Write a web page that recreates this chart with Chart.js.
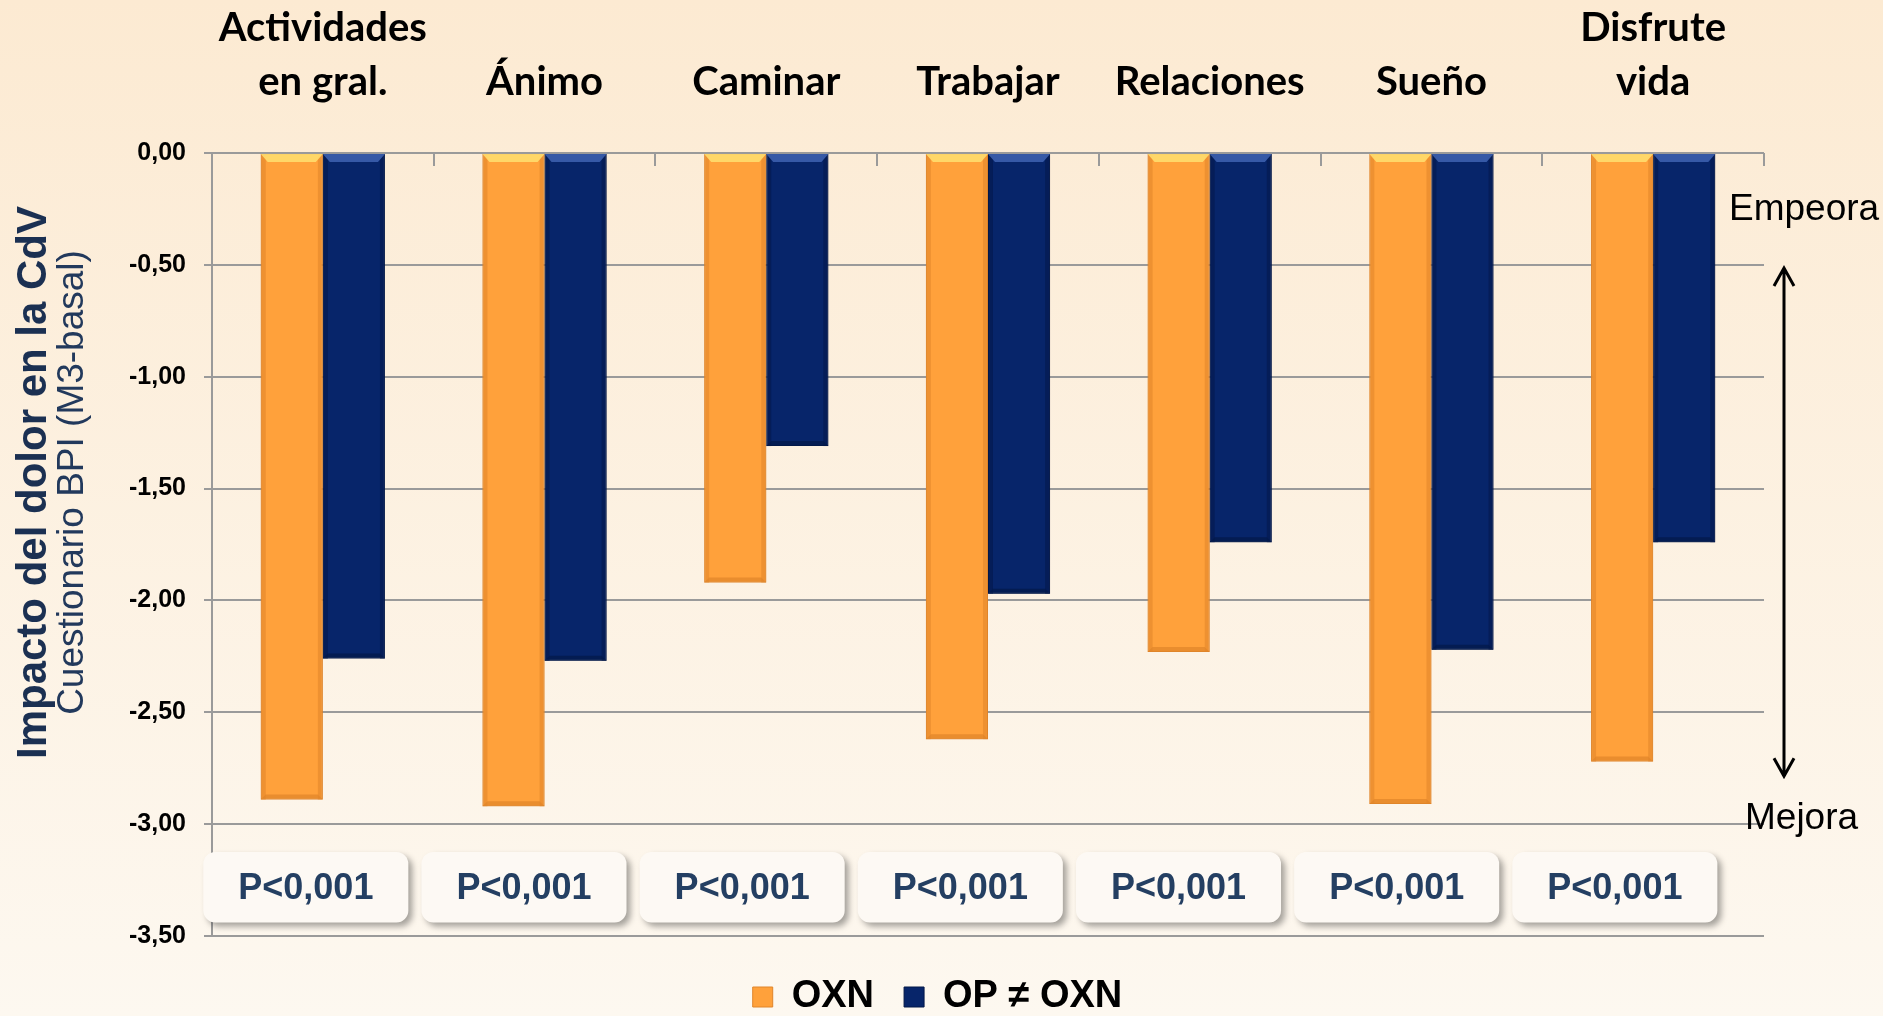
<!DOCTYPE html>
<html>
<head>
<meta charset="utf-8">
<script src="https://cdn.jsdelivr.net/npm/chart.js@4.4.1/dist/chart.umd.min.js"></script>
<style>
  html, body { margin: 0; padding: 0; }
  body { width: 1883px; height: 1016px; overflow: hidden; background: linear-gradient(#FCEAD2, #FDF8F0); }
</style>
</head>
<body>
<canvas id="chart" width="1883" height="1016"></canvas>
<script>
const categories = [['Actividades', 'en gral.'], 'Ánimo', 'Caminar', 'Trabajar', 'Relaciones', 'Sueño', ['Disfrute', 'vida']];
const seriesNames = ['OXN', 'OP ≠ OXN'];
const oxnValues = [-2.89, -2.92, -1.92, -2.62, -2.23, -2.91, -2.72];
const opValues = [-2.26, -2.27, -1.31, -1.97, -1.74, -2.22, -1.74];
const pLabels = ['P<0,001', 'P<0,001', 'P<0,001', 'P<0,001', 'P<0,001', 'P<0,001', 'P<0,001'];
const yTitle = ['Impacto del dolor en la CdV', 'Cuestionario BPI (M3-basal)'];
const sideLabels = ['Empeora', 'Mejora'];

const FONT = "'Liberation Sans', Arial, sans-serif";
const GRID = '#9a9a9a';
// body, light top bevel, dark edge
const bevel = [
    ['#FFA13B', '#FFDD6E', '#E0852A'],
    ['#07256A', '#3C5FAE', '#031848']
];

// extra drawing: inward ticks, bar bevels, y title, p-value boxes, arrow
const extras = {
    id: 'extras',
    beforeDatasetsDraw(chart) {
        const { ctx, chartArea: a } = chart;
        const step = a.width / categories.length;
        ctx.save();
        ctx.strokeStyle = GRID;
        ctx.lineWidth = 2;
        for (let i = 1; i <= categories.length; i++) {
            const px = Math.round(a.left + i * step);
            ctx.beginPath();
            ctx.moveTo(px, a.top);
            ctx.lineTo(px, a.top + 13);
            ctx.stroke();
        }
        ctx.restore();
    },
    afterDatasetsDraw(chart) {
        const { ctx } = chart;
        ctx.save();
        chart.data.datasets.forEach((ds, d) => {
            const [, light, dark] = bevel[d];
            chart.getDatasetMeta(d).data.forEach(bar => {
                const l = bar.x - bar.width / 2, r = bar.x + bar.width / 2;
                const t = bar.base, b = bar.y, e = 5;
                // side edges
                ctx.fillStyle = dark;
                ctx.globalAlpha = 0.55;
                ctx.fillRect(l, t, e, b - t);
                ctx.fillRect(r - e, t, e, b - t);
                ctx.globalAlpha = 0.7;
                ctx.beginPath();
                ctx.moveTo(l, b); ctx.lineTo(l + e, b - e); ctx.lineTo(r - e, b - e); ctx.lineTo(r, b);
                ctx.closePath();
                ctx.fill();
                // top highlight
                ctx.globalAlpha = 0.9;
                ctx.fillStyle = light;
                ctx.beginPath();
                ctx.moveTo(l, t); ctx.lineTo(r, t); ctx.lineTo(r - 7, t + 8); ctx.lineTo(l + 7, t + 8);
                ctx.closePath();
                ctx.fill();
            });
        });
        ctx.restore();
    },
    afterDraw(chart) {
        const { ctx, chartArea: a, scales: { x, y } } = chart;
        ctx.save();

        // y axis title, two lines
        const cy = (a.top + a.bottom) / 2 - 62;
        ctx.textAlign = 'center';
        ctx.textBaseline = 'alphabetic';
        ctx.save();
        ctx.translate(46, cy);
        ctx.rotate(-Math.PI / 2);
        ctx.fillStyle = '#1b3052';
        ctx.font = 'bold 42px ' + FONT;
        ctx.fillText(yTitle[0], 0, 0);
        ctx.restore();
        ctx.save();
        ctx.translate(83, cy);
        ctx.rotate(-Math.PI / 2);
        ctx.fillStyle = '#22395c';
        ctx.font = '37px ' + FONT;
        ctx.fillText(yTitle[1], 0, 0);
        ctx.restore();

        // p-value boxes
        const gap = (x.getPixelForValue(1) - x.getPixelForValue(0)) * 0.984;
        const top = y.getPixelForValue(-3.125);
        const bot = y.getPixelForValue(-3.44);
        pLabels.forEach((txt, i) => {
            const cx = x.getPixelForValue(0) - 17 + i * gap;
            const w = 205, h = bot - top;
            ctx.save();
            ctx.shadowColor = 'rgba(0,0,0,0.35)';
            ctx.shadowBlur = 6;
            ctx.shadowOffsetX = 4;
            ctx.shadowOffsetY = 4;
            ctx.fillStyle = '#FDF9F4';
            ctx.beginPath();
            ctx.roundRect(cx - w / 2, top, w, h, 12);
            ctx.fill();
            ctx.restore();
            ctx.fillStyle = '#243F62';
            ctx.font = 'bold 36px ' + FONT;
            ctx.textBaseline = 'middle';
            ctx.fillText(txt, cx, (top + bot) / 2 + 2);
        });

        // Empeora / Mejora and arrow
        ctx.fillStyle = '#000';
        ctx.font = '37px ' + FONT;
        ctx.textAlign = 'left';
        ctx.textBaseline = 'alphabetic';
        ctx.fillText(sideLabels[0], a.right - 35, y.getPixelForValue(-0.30));
        ctx.fillText(sideLabels[1], a.right - 19, y.getPixelForValue(-3.02));

        const ax = a.right + 20;
        const y1 = y.getPixelForValue(-0.51);
        const y2 = y.getPixelForValue(-2.79);
        ctx.strokeStyle = '#000';
        ctx.lineWidth = 3;
        ctx.beginPath();
        ctx.moveTo(ax, y1 + 2);
        ctx.lineTo(ax, y2 - 2);
        ctx.moveTo(ax - 10, y1 + 19);
        ctx.lineTo(ax, y1 + 1);
        ctx.lineTo(ax + 10, y1 + 19);
        ctx.moveTo(ax - 10, y2 - 19);
        ctx.lineTo(ax, y2 - 1);
        ctx.lineTo(ax + 10, y2 - 19);
        ctx.stroke();

        ctx.restore();
    }
};

const ctx = document.getElementById('chart').getContext('2d');

const qolChart = new Chart(ctx, {
    type: 'bar',
    data: {
        labels: categories,
        datasets: [{
            label: seriesNames[0],
            data: oxnValues,
            backgroundColor: bevel[0][0],
            borderColor: bevel[0][2],
            borderWidth: 1,
            borderSkipped: false
        }, {
            label: seriesNames[1],
            data: opValues,
            backgroundColor: bevel[1][0],
            borderColor: bevel[1][2],
            borderWidth: 1,
            borderSkipped: false
        }]
    },
    options: {
        responsive: false,
        animation: false,
        categoryPercentage: 0.56,
        barPercentage: 1.0,
        layout: {
            padding: { left: 111, right: 119, top: -35, bottom: -10 }
        },
        scales: {
            x: {
                position: 'top',
                grid: { display: false },
                border: { display: false },
                ticks: {
                    color: '#000',
                    padding: 36,
                    maxRotation: 0,
                    autoSkip: false,
                    font: { family: 'Lato', weight: 'bold', size: 40, lineHeight: 1.35 }
                }
            },
            y: {
                min: -3.5,
                max: 0,
                grid: { color: GRID, lineWidth: 2, tickLength: 8 },
                border: { display: true, color: GRID, width: 2 },
                ticks: {
                    stepSize: 0.5,
                    color: '#000',
                    padding: 18,
                    font: { family: FONT, weight: 'bold', size: 25 },
                    callback: v => v.toFixed(2).replace('.', ',')
                }
            }
        },
        plugins: {
            legend: {
                position: 'bottom',
                title: { display: true, text: '', font: { size: 10 }, padding: 0 },
                labels: {
                    color: '#000',
                    boxWidth: 20,
                    boxHeight: 20,
                    padding: 30,
                    font: { family: FONT, weight: 'bold', size: 38 }
                }
            },
            tooltip: { enabled: false }
        }
    },
    plugins: [extras]
});
</script>
</body>
</html>
